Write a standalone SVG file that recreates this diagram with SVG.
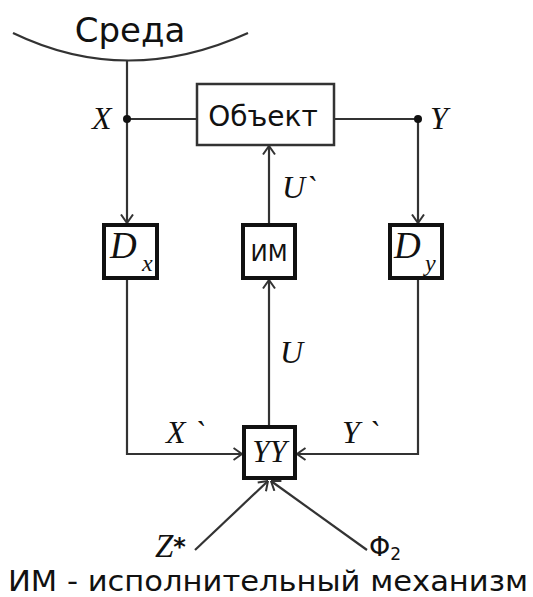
<svg xmlns="http://www.w3.org/2000/svg" width="533" height="597" viewBox="0 0 533 597">
<style>
.ln{fill:none;stroke:#333;stroke-width:2.2}
.thick{fill:#fff;stroke:#111;stroke-width:4}
.thin{fill:#fff;stroke:#333;stroke-width:2.5}
.sans{font-family:"DejaVu Sans",Verdana,sans-serif;fill:#111}
.it{font-family:"Liberation Serif","Times New Roman",serif;font-style:italic;fill:#111}
.dot{fill:#111}
</style>
<defs>
<marker id="arr" viewBox="0 0 10 14" refX="9.5" refY="7" markerWidth="10" markerHeight="14" markerUnits="userSpaceOnUse" orient="auto">
<path d="M1,1 L9.5,7 L1,13" fill="none" stroke="#333" stroke-width="2"/>
</marker>
</defs>
<g id="connectors">
<path class="ln" d="M13,33 Q127,88 248,33"/>
<path class="ln" d="M127,60 L127,223" marker-end="url(#arr)"/>
<path class="ln" d="M127,119 L197,119"/>
<path class="ln" d="M334,119 L418,119"/>
<path class="ln" d="M418,119 L418,223" marker-end="url(#arr)"/>
<path class="ln" d="M269,223 L269,146" marker-end="url(#arr)"/>
<path class="ln" d="M269,425 L269,280" marker-end="url(#arr)"/>
<path class="ln" d="M127,280 L127,454 L242,454" marker-end="url(#arr)"/>
<path class="ln" d="M418,280 L418,454 L297,454" marker-end="url(#arr)"/>
<path class="ln" d="M195,550 L268,481" marker-end="url(#arr)"/>
<path class="ln" d="M367,550 L271,481" marker-end="url(#arr)"/>
<circle class="dot" cx="127" cy="119" r="4"/>
<circle class="dot" cx="418" cy="119" r="4"/>
</g>
<g id="sreda">
<text class="sans" x="130" y="42" font-size="34" text-anchor="middle">Среда</text>
</g>
<g id="obj">
<rect class="thin" x="197" y="84" width="137" height="61"/>
<text class="sans" x="263" y="126" font-size="28" text-anchor="middle">Объект</text>
</g>
<g id="dx">
<rect class="thick" x="104" y="225" width="53" height="53"/>
<text class="it" x="110" y="258" font-size="37">D</text>
<text class="it" x="142" y="271" font-size="24">x</text>
</g>
<g id="im">
<rect class="thick" x="243" y="225" width="52" height="53"/>
<text class="sans" x="269" y="261" font-size="23" text-anchor="middle">ИМ</text>
</g>
<g id="dy">
<rect class="thick" x="390" y="225" width="52" height="53"/>
<text class="it" x="394" y="258" font-size="37">D</text>
<text class="it" x="425" y="271" font-size="24">y</text>
</g>
<g id="yy">
<rect class="thick" x="244" y="427" width="51" height="51"/>
<text class="it" x="269.5" y="462" font-size="31" text-anchor="middle">YY</text>
</g>
<g id="labels">
<text class="it" x="92" y="129" font-size="32">X</text>
<text class="it" x="430" y="129" font-size="32">Y</text>
<text class="it" x="282" y="198" font-size="32">U`</text>
<text class="it" x="280" y="363" font-size="32">U</text>
<text class="it" x="166" y="443" font-size="32">X `</text>
<text class="it" x="342" y="443" font-size="32">Y `</text>
<text class="it" x="155" y="557" font-size="33">Z<tspan font-style="normal" font-family="'DejaVu Sans',sans-serif" font-weight="bold" font-size="24" dy="-2">*</tspan></text>
<text class="sans" x="369" y="556" font-size="27">Φ<tspan font-size="17" dy="4">2</tspan></text>
<text class="sans" x="8" y="591" font-size="28" textLength="520" lengthAdjust="spacingAndGlyphs">ИМ - исполнительный механизм</text>
</g>
</svg>
